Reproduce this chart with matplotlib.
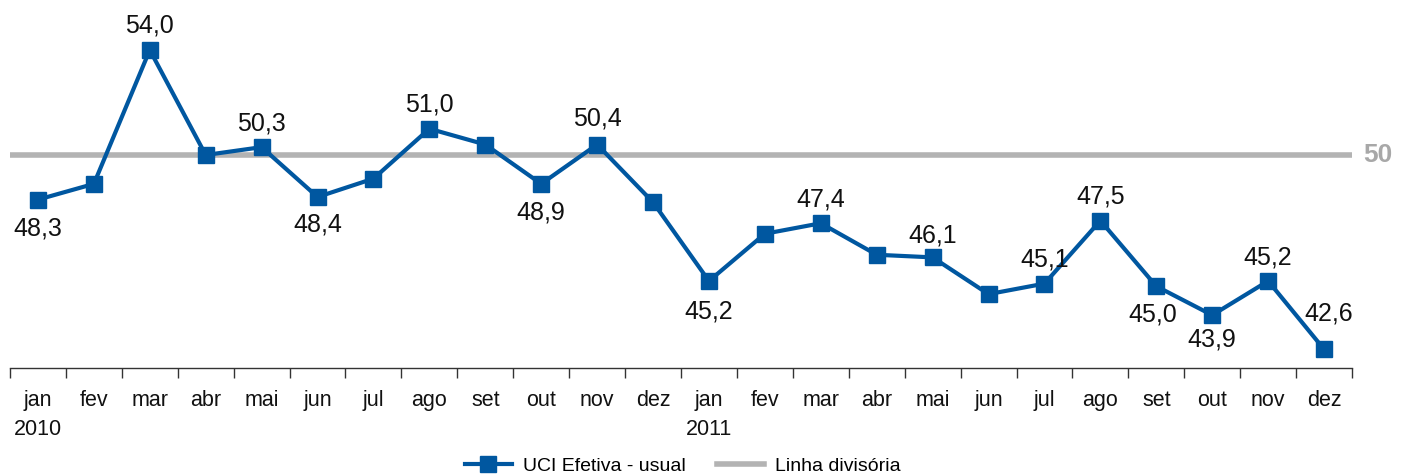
import matplotlib
matplotlib.use("Agg")
import matplotlib.pyplot as plt
from matplotlib.lines import Line2D
import numpy as np

months = ["jan", "fev", "mar", "abr", "mai", "jun", "jul", "ago", "set", "out", "nov", "dez"] * 2
years = {0: "2010", 12: "2011"}
uci = [48.3, 48.9, 54.0, 50.0, 50.3, 48.4, 49.1, 51.0, 50.4, 48.9, 50.4, 48.2,
       45.2, 47.0, 47.4, 46.2, 46.1, 44.7, 45.1, 47.5, 45.0, 43.9, 45.2, 42.6]
divisoria = 50

# value labels: index -> (dx, dy) offset in pixels (negative dy = above)
UP, DOWN = -24, 29
label_offsets = {0: (0, DOWN), 2: (0, -25), 4: (0, UP), 5: (0, 27.5), 7: (0, UP),
                 9: (0, DOWN), 10: (0, -26), 12: (0, 30), 14: (0, UP), 16: (0, -22),
                 18: (0, UP), 19: (0, UP), 20: (-4, 28.5), 21: (0, 24.5),
                 22: (0, UP), 23: (5, -35.5)}

plt.rcParams['font.family'] = ['Liberation Sans', 'DejaVu Sans']
BLUE = "#0057a0"
GRAY = "#b3b3b3"

fig = plt.figure(figsize=(14.05, 4.76), dpi=100)
ax = fig.add_axes([10/1405, 1 - 368/476, 1342/1405, 368/476])

x = np.arange(len(uci))
ax.axhline(divisoria, color=GRAY, lw=4, zorder=1)
ax.plot(x, uci, color=BLUE, lw=3.0, marker="s", markersize=11, zorder=3)

px = 72 / fig.dpi
for i, (dx, dy) in label_offsets.items():
    txt = f"{uci[i]:.1f}".replace(".", ",")
    ax.annotate(txt, (x[i], uci[i]), xytext=(dx * px, -dy * px), textcoords="offset points",
                ha="center", va="center", fontsize=18, color="#111111")

ax.set_xlim(-0.5, len(uci) - 0.5)
ax.set_ylim(41.886, 55.905)
for s in ["left", "top", "right"]:
    ax.spines[s].set_visible(False)
ax.spines["bottom"].set_color("#333333")
ax.spines["bottom"].set_linewidth(1.0)
ax.set_yticks([])

ax.set_xticks(x)
ax.set_xticklabels([m + ("\n" + years[i] if i in years else "") for i, m in enumerate(months)],
                   fontsize=15.5, color="#111111", linespacing=1.5, va="top")
ax.tick_params(axis="x", which="major", length=0, pad=16)
ax.set_xticks(np.arange(-0.5, len(uci), 1), minor=True)
ax.tick_params(axis="x", which="minor", length=7, width=1, color="#333333")

ax.text(1.008, divisoria, "50", transform=ax.get_yaxis_transform(), ha="left", va="center",
        fontsize=19, fontweight="bold", color="#a8a8a8", clip_on=False)

handles = [Line2D([], [], color=BLUE, lw=3.0, marker="s", markersize=11),
           Line2D([], [], color=GRAY, lw=4)]
fig.legend(handles, ["UCI Efetiva - usual", "Linha divisória"], loc="center",
           bbox_to_anchor=(683/1405, 1 - 466/476), ncol=2, frameon=False,
           fontsize=14, handlelength=2.4, columnspacing=1.6, handletextpad=0.6)

fig.savefig("out.png", dpi=100)
